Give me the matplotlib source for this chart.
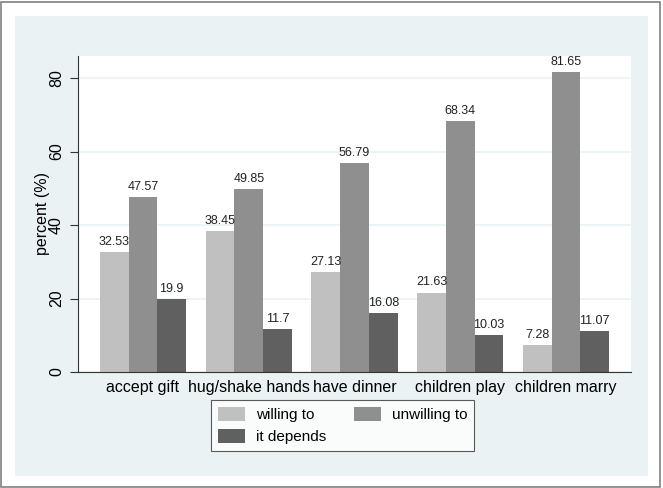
import matplotlib
matplotlib.use("Agg")
import matplotlib.pyplot as plt
from matplotlib.patches import Rectangle
import numpy as np

categories = ["accept gift", "hug/shake hands", "have dinner", "children play", "children marry"]
willing = [32.53, 38.45, 27.13, 21.63, 7.28]
unwilling = [47.57, 49.85, 56.79, 68.34, 81.65]
depends = [19.9, 11.7, 16.08, 10.03, 11.07]
series_names = ["willing to", "unwilling to", "it depends"]
yticks = [0, 20, 40, 60, 80]

colors = ["#C0C0C0", "#8F8F8F", "#606060"]

plt.rcParams['font.family'] = ['Liberation Sans', 'DejaVu Sans']

W, H = 663, 488
fig = plt.figure(figsize=(W / 100, H / 100), dpi=100)
fig.patch.set_facecolor("white")

# outer border
fig.patches.append(Rectangle((1 / W, 1 / H), (660 - 1) / W, (486 - 1) / H,
                             transform=fig.transFigure, facecolor="white",
                             edgecolor="#808080", linewidth=1.2, zorder=-3))
# light blue panel
fig.patches.append(Rectangle((15 / W, 1 - 476 / H), (648 - 15) / W, (476 - 16) / H,
                             transform=fig.transFigure, facecolor="#EAF2F3",
                             edgecolor="none", zorder=-2))

ax = fig.add_axes([78 / W, 1 - 372 / H, (631 - 78) / W, (372 - 56) / H])
ax.set_facecolor("white")

x = np.arange(len(categories))
bw = 0.2714
data = [willing, unwilling, depends]
bars = []
for i, (vals, c, name) in enumerate(zip(data, colors, series_names)):
    b = ax.bar(x + (i - 1) * bw, vals, width=bw, color=c, label=name, zorder=2, linewidth=0)
    bars.append(b)
    for xi, v in zip(x + (i - 1) * bw, vals):
        ax.annotate(f"{v:g}", (xi, v), xytext=(0, 3), textcoords="offset points",
                    ha="center", va="bottom", fontsize=9, color="#222222")

ax.set_xlim(-0.615, 4.615)
ax.set_ylim(0, 86)
ax.set_yticks(yticks)
ax.set_yticklabels([str(t) for t in yticks], rotation=90, va="center", fontsize=11.5)
ax.set_xticks(x)
ax.set_xticklabels(categories, fontsize=11.5)
ax.tick_params(axis="x", length=0, pad=6)
ax.tick_params(axis="y", length=6, width=0.8, color="#333333", pad=4)
ax.set_ylabel("percent (%)", fontsize=11.5, labelpad=-1)

ax.grid(axis="y", color="#EAF2F3", linewidth=1.2, zorder=0)
ax.set_axisbelow(True)
for s in ["top", "right"]:
    ax.spines[s].set_visible(False)
for s in ["left", "bottom"]:
    ax.spines[s].set_color("#333333")
    ax.spines[s].set_linewidth(0.8)

handles = [bars[0], bars[2], bars[1]]
labels = [series_names[0], series_names[2], series_names[1]]
leg = ax.legend(handles, labels, ncol=2, loc="upper left",
                bbox_to_anchor=(211 / W, 1 - 400 / H), bbox_transform=fig.transFigure,
                borderaxespad=0, fontsize=11, frameon=True, fancybox=False,
                handlelength=1.77, handleheight=1.0, handletextpad=0.72,
                columnspacing=1.8, borderpad=0.45, labelspacing=0.46)
leg.get_frame().set_edgecolor("#333333")
leg.get_frame().set_linewidth(0.8)

fig.savefig("out.png", dpi=100, facecolor="white")
